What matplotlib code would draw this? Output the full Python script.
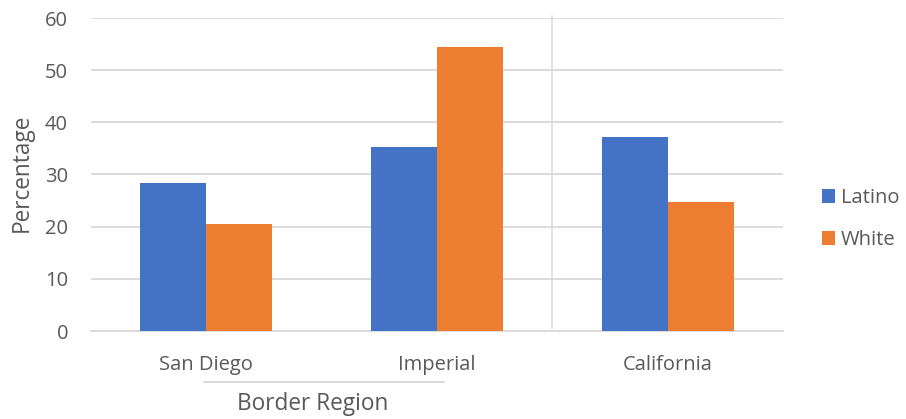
import matplotlib
matplotlib.use("Agg")
import matplotlib.pyplot as plt
import matplotlib.transforms as mtransforms
from matplotlib.lines import Line2D
import numpy as np

categories = ["San Diego", "Imperial", "California"]
group_label = "Border Region"
series_names = ["Latino", "White"]
latino = [28.3, 35.3, 37.2]
white = [20.5, 54.5, 24.8]
yticks = [0, 10, 20, 30, 40, 50, 60]

colors = ["#4472C4", "#ED7D31"]
text_color = "#595959"
grid_color = "#D9D9D9"
font = ["Open Sans", "DejaVu Sans"]
tick_fs = 14.5
title_fs = 16.3

W, H = 906, 419
fig = plt.figure(figsize=(W / 100, H / 100), dpi=100)
ax = fig.add_axes([91 / W, (H - 331) / H, (783 - 91) / W, (331 - 18) / H])

x = np.arange(len(categories))
bw = 0.286
ax.bar(x - bw / 2, latino, bw, color=colors[0], label=series_names[0], zorder=3)
ax.bar(x + bw / 2, white, bw, color=colors[1], label=series_names[1], zorder=3)

ax.set_xlim(-0.5, len(categories) - 0.5)
ax.set_ylim(0, 60)
ax.set_yticks(yticks)
ax.set_yticklabels([str(v) for v in yticks], fontsize=tick_fs, color=text_color, family=font)
ax.yaxis.grid(True, color=grid_color, linewidth=1.3, zorder=0)
ax.set_axisbelow(True)
for s in ["top", "right", "left"]:
    ax.spines[s].set_visible(False)
ax.spines["bottom"].set_color(grid_color)
ax.spines["bottom"].set_linewidth(1.3)
ax.tick_params(axis="y", length=0, pad=16.5)
ax.tick_params(axis="x", length=0, pad=17)
ax.set_xticks(x)
ax.set_xticklabels(categories, fontsize=tick_fs, color=text_color, family=font)

# separator between group and California
ax.plot([1.5, 1.5], [0.5, 60.4], color=grid_color, linewidth=1.1, zorder=1, clip_on=False)

# group underline and label
trans = mtransforms.blended_transform_factory(ax.transData, fig.transFigure)
ax.add_line(Line2D([-0.01, 1.03], [(H - 381.7) / H] * 2, transform=trans,
                   color=grid_color, linewidth=1.3, clip_on=False))
ax.text(0.46, (H - 404) / H, group_label, transform=trans, ha="center", va="center",
        fontsize=title_fs, color=text_color, family=font)

fig.text(22 / W, (H - 173) / H, "Percentage", rotation=90, ha="center", va="center",
         fontsize=title_fs, color=text_color, family=font)

leg = ax.legend(loc="center left", bbox_to_anchor=(822 / W, (H - 219) / H),
                bbox_transform=fig.transFigure, frameon=False, fontsize=tick_fs,
                handlelength=0.64, handleheight=0.64, handletextpad=0.3,
                labelspacing=1.1, borderaxespad=0, borderpad=0)
for t in leg.get_texts():
    t.set_color(text_color)
    t.set_family(font)

fig.savefig("out.png", dpi=100)
